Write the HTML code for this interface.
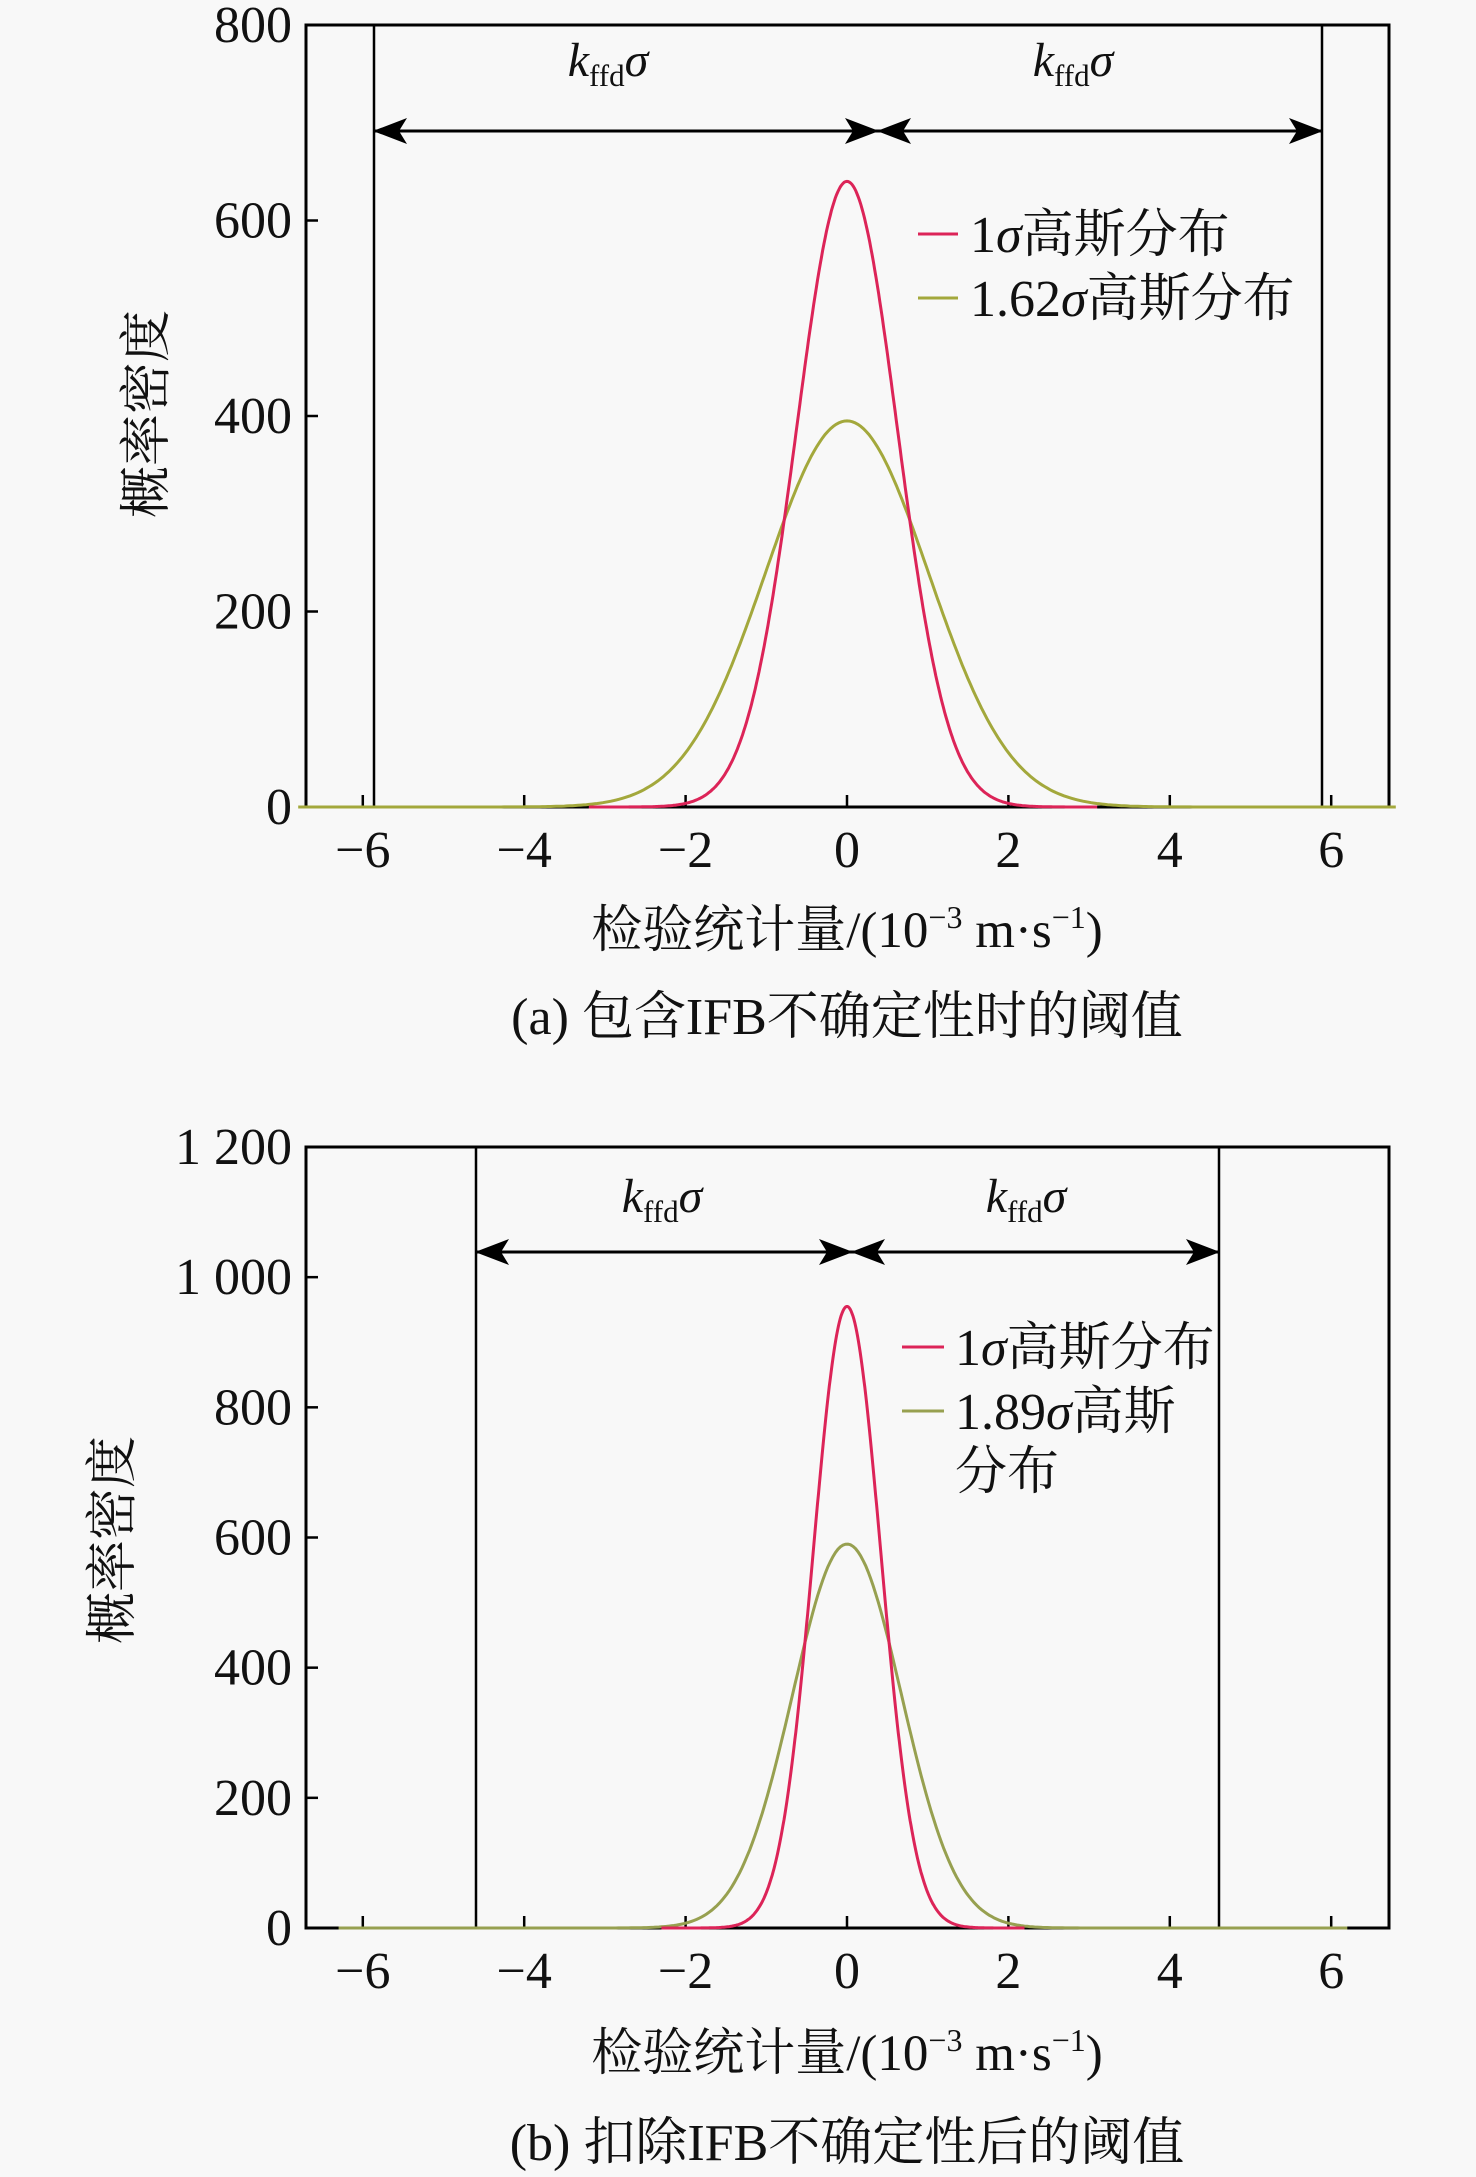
<!DOCTYPE html>
<html><head><meta charset="utf-8">
<style>
html,body{margin:0;padding:0;background:#f8f8f8;}
svg{display:block;}
text{font-family:"Liberation Serif","Noto Serif CJK SC","Noto Sans CJK SC",serif;fill:#111;}
</style></head>
<body>
<svg id="s" width="1476" height="2177" viewBox="0 0 1476 2177" xmlns="http://www.w3.org/2000/svg">
<rect width="1476" height="2177" fill="#f8f8f8"/>
<defs>
<marker id="ah" viewBox="0 0 34 26" refX="33" refY="13" markerWidth="34" markerHeight="26" markerUnits="userSpaceOnUse" orient="auto-start-reverse">
<path d="M0,0 L34,13 L0,26 L8,13 Z" fill="#000"/>
</marker>
</defs>
<g id="A"></g>
<g id="B"></g>
</svg>
<script>
var NS="http://www.w3.org/2000/svg";
function el(p,tag,attrs,txt){var e=document.createElementNS(NS,tag);for(var k in attrs)e.setAttribute(k,attrs[k]);if(txt!==undefined)e.textContent=txt;p.appendChild(e);return e;}
function plot(g,o){
 var X=function(v){return o.x0+v*o.ux;};
 var Y=function(v){return o.yz-(v/o.ymax)*(o.yz-o.yt);};
 function curve(peak,sig,xa,xb,col){
   var d="";for(var i=0;i<=400;i++){var v=xa+(xb-xa)*i/400;var y=peak*Math.exp(-v*v/(2*sig*sig));d+=(i?"L":"M")+X(v).toFixed(1)+","+Y(y).toFixed(1);}
   el(g,"path",{d:d,fill:"none",stroke:col,"stroke-width":3});
 }
 el(g,"rect",{x:o.L,y:o.yt,width:o.R-o.L,height:o.yz-o.yt,fill:"none",stroke:"#000","stroke-width":3});
 o.yt_labels.forEach(function(t){var y=Y(t[0]);el(g,"line",{x1:o.L,y1:y,x2:o.L+12,y2:y,stroke:"#000","stroke-width":2.5});
   el(g,"text",{x:o.L-14,y:y+17,"text-anchor":"end","font-size":52},t[1]);});
 [-6,-4,-2,0,2,4,6].forEach(function(v){var x=X(v);el(g,"line",{x1:x,y1:o.yz,x2:x,y2:o.yz-12,stroke:"#000","stroke-width":2.5});
   el(g,"text",{x:x,y:o.yz+60,"text-anchor":"middle","font-size":52},(v<0?"\u2212":"")+Math.abs(v));});
 [o.vl,o.vr].forEach(function(x){el(g,"line",{x1:x,y1:o.yt,x2:x,y2:o.yz,stroke:"#000","stroke-width":2.5});});
 el(g,"line",{x1:o.vl,y1:o.ay,x2:o.am,y2:o.ay,stroke:"#000","stroke-width":3,"marker-start":"url(#ah)","marker-end":"url(#ah)"});
 el(g,"line",{x1:o.am,y1:o.ay,x2:o.vr,y2:o.ay,stroke:"#000","stroke-width":3,"marker-start":"url(#ah)","marker-end":"url(#ah)"});
 o.kx.forEach(function(x){var t=el(g,"text",{x:x,y:o.ky,"font-size":48,"text-anchor":"middle"});
   el(t,"tspan",{"font-style":"italic"},"k");el(t,"tspan",{"font-size":31,dy:10},"ffd");el(t,"tspan",{"font-style":"italic",dy:-10},"σ");});
 curve(o.gp,o.gs,o.ga,o.gb,o.gc);
 curve(o.rp,o.rs,o.ra,o.rb,"#dc2458");
 el(g,"line",{x1:o.lx1,y1:o.ly1,x2:o.lx2,y2:o.ly1,stroke:"#dc2458","stroke-width":3});
 el(g,"line",{x1:o.lx1,y1:o.ly2,x2:o.lx2,y2:o.ly2,stroke:o.gc,"stroke-width":3});
 var t1=el(g,"text",{x:o.tx,y:o.ly1+18,"font-size":52});el(t1,"tspan",{},"1");el(t1,"tspan",{"font-style":"italic"},"σ");el(t1,"tspan",{},"高斯分布");
 var t2=el(g,"text",{x:o.tx,y:o.ly2+18,"font-size":52});el(t2,"tspan",{},o.g1);el(t2,"tspan",{"font-style":"italic"},"σ");el(t2,"tspan",{},o.g2);
 if(o.g3)el(g,"text",{x:o.tx,y:o.ly3+18,"font-size":52},o.g3);
 el(g,"text",{x:0,y:0,"font-size":52,"text-anchor":"middle",transform:"translate("+(o.ylx+18)+","+o.yly+") rotate(-90)"},"概率密度");
 var xl=el(g,"text",{x:847,y:o.xly,"font-size":51,"text-anchor":"middle"});
 el(xl,"tspan",{},"检验统计量/(10");el(xl,"tspan",{"font-size":32,dy:-19},"−3");el(xl,"tspan",{dy:19}," m·s");el(xl,"tspan",{"font-size":32,dy:-19},"−1");el(xl,"tspan",{dy:19},")");
 el(g,"text",{x:847,y:o.cy,"font-size":52,"text-anchor":"middle"},o.cap);
}
plot(document.getElementById("A"),{L:306,R:1389,yt:25,yz:807,ymax:800,x0:847,ux:80.7,
 yt_labels:[[0,"0"],[200,"200"],[400,"400"],[600,"600"],[800,"800"]],
 vl:374,vr:1322,ay:131,am:878,kx:[608,1073],ky:76,
 rp:640,rs:0.623,ra:-3.2,rb:3.1,gp:395,gs:1.01,ga:-6.8,gb:6.8,gc:"#a3a83c",
 lx1:918,lx2:958,ly1:234,ly2:298,tx:970,g1:"1.62",g2:"高斯分布",
 ylx:146,yly:414,xly:947,cy:1034,cap:"(a) 包含IFB不确定性时的阈值"});
plot(document.getElementById("B"),{L:306,R:1389,yt:1147,yz:1928,ymax:1200,x0:847,ux:80.7,
 yt_labels:[[0,"0"],[200,"200"],[400,"400"],[600,"600"],[800,"800"],[1000,"1 000"],[1200,"1 200"]],
 vl:476,vr:1219,ay:1252,am:852,kx:[662,1026],ky:1212,
 rp:955,rs:0.4177,ra:-2.3,rb:2.2,gp:590,gs:0.676,ga:-6.3,gb:6.2,gc:"#97a050",
 lx1:902,lx2:944,ly1:1347,ly2:1411,ly3:1471,tx:955,g1:"1.89",g2:"高斯",g3:"分布",
 ylx:112,yly:1540,xly:2070,cy:2160,cap:"(b) 扣除IFB不确定性后的阈值"});
</script>
</body></html>
